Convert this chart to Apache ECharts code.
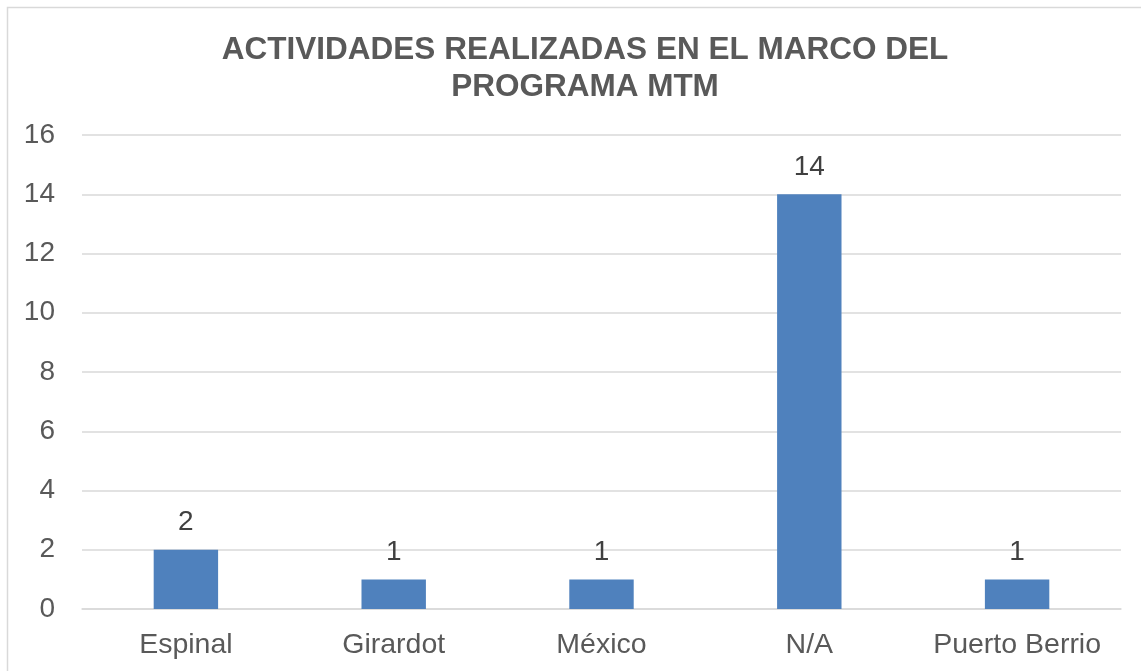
<!DOCTYPE html>
<html>
<head>
<meta charset="utf-8">
<script src="https://cdn.jsdelivr.net/npm/echarts@6/dist/echarts.min.js"></script>
<style>
  html, body { margin: 0; padding: 0; background: #ffffff; }
  #chart { width: 1141px; height: 671px; }
</style>
</head>
<body>
<div id="chart"></div>
<script>
// Activities per location
const titleText = 'ACTIVIDADES REALIZADAS EN EL MARCO DEL\nPROGRAMA MTM';
const categories = ['Espinal', 'Girardot', 'México', 'N/A', 'Puerto Berrio'];
const activityCounts = [2, 1, 1, 14, 1];
const yTicks = { min: 0, max: 16, interval: 2 };

const chart = echarts.init(document.getElementById('chart'), null, { renderer: 'canvas' });

const font = 'Liberation Sans, Arial, sans-serif';

chart.setOption({
  backgroundColor: '#ffffff',
  animation: false,
  graphic: [{
    type: 'rect',
    shape: { x: 7.5, y: 7.5, width: 1200, height: 700 },
    style: { fill: 'none', stroke: '#d9d9d9', lineWidth: 1.5 },
    silent: true,
    z: -1
  }],
  title: {
    text: titleText,
    left: 580,
    top: 27,
    textAlign: 'center',
    textStyle: {
      fontFamily: font,
      fontSize: 31.5,
      fontWeight: 'bold',
      color: '#595959',
      lineHeight: 37
    }
  },
  grid: { left: 82, right: 20, top: 135, bottom: 62, containLabel: false },
  xAxis: {
    type: 'category',
    data: categories,
    axisTick: { show: false },
    axisLine: { lineStyle: { color: '#d9d9d9', width: 1.5 } },
    axisLabel: { interval: 0, fontFamily: font, fontSize: 28.5, color: '#595959', margin: 22 }
  },
  yAxis: {
    type: 'value',
    min: yTicks.min,
    max: yTicks.max,
    interval: yTicks.interval,
    axisLine: { show: false },
    axisTick: { show: false },
    splitLine: { lineStyle: { color: '#d9d9d9', width: 1.5 } },
    axisLabel: { fontFamily: font, fontSize: 28, color: '#595959', margin: 27 }
  },
  series: [{
    type: 'bar',
    data: activityCounts,
    barWidth: '31%',
    itemStyle: { color: '#4f81bd' },
    label: {
      show: true,
      position: 'top',
      distance: 13,
      fontFamily: font,
      fontSize: 28,
      color: '#404040'
    }
  }]
});
</script>
</body>
</html>
